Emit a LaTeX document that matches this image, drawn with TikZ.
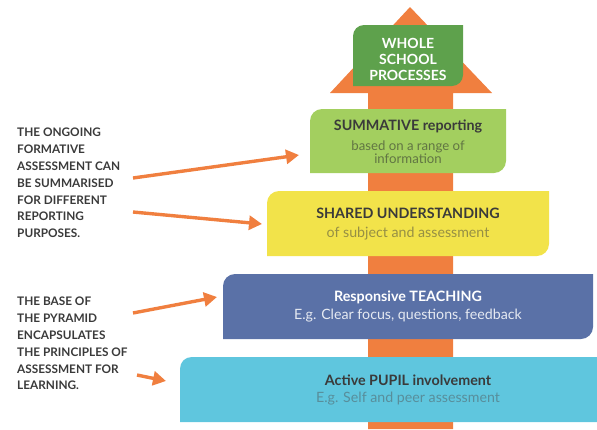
\documentclass[tikz,border=0pt]{standalone}
\usepackage{fontspec}
\setmainfont{Lato}
\usetikzlibrary{arrows.meta}
\definecolor{orangeA}{HTML}{F07F3F}
\definecolor{greenTop}{HTML}{5EA14C}
\definecolor{greenL}{HTML}{A3CF5F}
\definecolor{yellowB}{HTML}{F2E34A}
\definecolor{blueB}{HTML}{5A71A7}
\definecolor{cyanB}{HTML}{5FC6DE}
\definecolor{darkT}{HTML}{3A3A3A}
\newcommand{\pyrbox}[6]{%
  \fill[#6] (#1,#4) -- (#1,#2+#5) .. controls (#1,#2+0.45*#5) and (#1+0.45*#5,#2) .. (#1+#5,#2)
    -- (#3,#2) -- (#3,#4-#5) .. controls (#3,#4-0.45*#5) and (#3-0.45*#5,#4) .. (#3-#5,#4) -- cycle;}
\begin{document}
\begin{tikzpicture}[x=1pt,y=-1pt,
  title/.style={font=\bfseries\fontsize{14.3}{16}\selectfont, text=darkT, inner sep=0pt},
  sub/.style={font=\fontsize{14.2}{14.5}\selectfont, inner sep=0pt, align=center},
  side/.style={font=\bfseries\fontsize{11.8}{16.8}\selectfont, text=darkT, align=left, inner sep=0pt, anchor=north west},
  arr/.style={draw=orangeA, line width=3.4pt, -{Triangle[length=13pt,width=14pt]}}]
\useasboundingbox (0,0) rectangle (597,429);
% big orange arrow
\fill[orangeA] (368,429) -- (368,93) -- (330,93) -- (410,7) -- (492,93) -- (453,93) -- (453,429) -- cycle;
% boxes
\pyrbox{353}{25}{463}{86}{11}{greenTop}
\pyrbox{310}{109}{506}{173}{12}{greenL}
\pyrbox{267}{191}{549}{256}{12}{yellowB}
\pyrbox{223}{274}{593}{339}{12}{blueB}
\fill[cyanB] (180,422) -- (180,369) .. controls (180,362) and (185,357) .. (192,357) -- (597,357) -- (597,422) -- cycle;
% texts in boxes
\node[font=\bfseries\fontsize{14}{16}\selectfont, text=white, align=center, inner sep=0pt] (whole) at (408,59) {WHOLE\\SCHOOL\\PROCESSES};
\node[title] (summ) at (408,126) {SUMMATIVE reporting};
\node[sub, text=black!45!greenL!80!gray, font=\fontsize{13.2}{12.5}\selectfont] (summsub) at (408,152) {based on a range of\\information};
\node[title] (shared) at (408,213) {SHARED UNDERSTANDING};
\node[sub, text=black!35!yellowB!75!gray] (sharedsub) at (408,234) {of subject and assessment};
\node[title, text=white] (resp) at (408,297) {Responsive TEACHING};
\node[sub, text=white!85!blueB] (respsub) at (408,316) {E.g. Clear focus, questions, feedback};
\node[title] (active) at (408,380) {Active PUPIL involvement};
\node[sub, text=black!25!cyanB!70!gray] (activesub) at (408,399) {E.g. Self and peer assessment};
% side texts
\node[side] (note1) at (17,128) {THE ONGOING\\FORMATIVE\\ASSESSMENT CAN\\BE SUMMARISED\\FOR DIFFERENT\\REPORTING\\PURPOSES.};
\node[side] (note2) at (17,297) {THE BASE OF\\THE PYRAMID\\ENCAPSULATES\\THE PRINCIPLES OF\\ASSESSMENT FOR\\LEARNING.};
% arrows
\coordinate (a1s) at (133,178); \coordinate (a1e) at (299,155);
\coordinate (a2s) at (133,212); \coordinate (a2e) at (262,224);
\coordinate (a3s) at (133,313); \coordinate (a3e) at (217,297);
\coordinate (a4s) at (137,375); \coordinate (a4e) at (166,381);
\draw[arr] (a1s) -- (a1e);
\draw[arr] (a2s) -- (a2e);
\draw[arr] (a3s) -- (a3e);
\draw[arr] (a4s) -- (a4e);
\end{tikzpicture}
\end{document}
